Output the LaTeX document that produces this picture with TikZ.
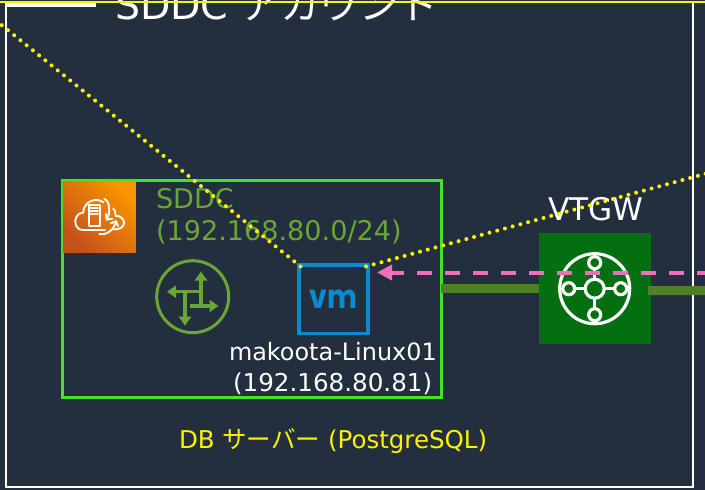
\documentclass[tikz,border=0pt]{standalone}
\usepackage{graphicx}
\usepackage{fontspec}
\setmainfont{DejaVu Sans}
\newfontfamily\cjk{Noto Sans CJK JP}
\newfontfamily\vmf{Poppins}
\usetikzlibrary{arrows.meta}
\definecolor{bgc}{HTML}{232F3E}
\definecolor{sddcg}{HTML}{46E22A}
\definecolor{txtg}{HTML}{69A637}
\definecolor{vmb}{HTML}{0A8BD0}
\definecolor{linkg}{HTML}{4F7F28}
\definecolor{tgwg}{HTML}{036F11}
\definecolor{pinkc}{HTML}{F26EBD}
\definecolor{orgd}{HTML}{C4501C}
\definecolor{orgl}{HTML}{FB9400}
\tikzset{
  lbl/.style={anchor=base west,inner sep=0pt,outer sep=0pt,text=white},
  dots/.style={yellow,line width=4bp,line cap=round,dash pattern=on 0bp off 8bp},
  link/.style={linkg,line width=9bp},
  iconw/.style={white,line width=1.9bp,line cap=round,line join=round},
  tgwl/.style={white,line width=3.2bp},
  rout/.style={txtg,line width=3.4bp,-{Triangle[length=9bp,width=12bp]}}
}
\begin{document}
\begin{tikzpicture}[x=1bp,y=-1bp]
\useasboundingbox (0,0) rectangle (705,490);
\clip (0,0) rectangle (705,490);
\fill[bgc] (0,0) rectangle (705,490);
% outer frame
\draw[white,line width=2.8bp] (6,4) -- (6,487) -- (693,487) -- (693,3);
\fill[white] (5,3) rectangle (96,7);
\node[lbl,font=\fontsize{39.6}{40}\selectfont] (title) at (115,20) {SDDC {\cjk アカウント}};
\draw[yellow,line width=2bp] (0,2) -- (705,2);
% SDDC box
\node[draw=sddcg,line width=3bp,minimum width=378bp,minimum height=216bp,inner sep=0pt,outer sep=0pt] (sddc) at (252,289) {};
\node[lbl,text=txtg,font=\fontsize{27.2}{27}\selectfont] (sddcname) at (156,209) {SDDC};
\node[lbl,text=txtg,font=\fontsize{27.2}{27}\selectfont] (sddcnet) at (156,241) {(192.168.80.0/24)};
% orange icon
\node[minimum width=72.5bp,minimum height=71.5bp,inner sep=0pt,outer sep=0pt,left color=orgd,right color=orgl,shading angle=135] (orangebox) at (99.3,216.8) {};
\begin{scope}[shift={(50,170)},scale=0.3333]
  \draw[iconw] (165,180) -- (98,180) .. controls (82,180) and (75,165) .. (76,152) .. controls (77,138) and (88,128) .. (100,128) .. controls (100,105) and (118,90) .. (138,90) .. controls (146,90) and (154,92) .. (160,97);
  \draw[iconw] (190,115) .. controls (196,122) and (197,130) .. (197,138) .. controls (212,136) and (222,148) .. (222,158) .. controls (222,170) and (210,180) .. (190,178);
  \draw[iconw] (116,106) rectangle (150,168);
  \draw[iconw] (122,115) -- (144,115) (122,123) -- (144,123) (122,131) -- (144,131);
  \draw[iconw] (163,87) .. controls (178,92) and (184,125) .. (170,148);
  \draw[iconw] (168,132) -- (170,149) -- (187,146);
  \draw[iconw] (148,192) .. controls (170,196) and (192,180) .. (198,155);
  \draw[iconw] (183,160) -- (198,153) -- (204,168);
\end{scope}
% router
\node[circle,draw=txtg,line width=3bp,minimum size=72bp,inner sep=0pt,outer sep=0pt] (router) at (192.7,296.7) {};
\draw[rout] (201,306) -- (201,271.5);
\draw[rout] (190,306) -- (218.5,306);
\draw[rout] (202.7,291.7) -- (167,291.7);
\draw[rout] (185,290) -- (185,325.7);
% vm
\node[draw=vmb,line width=3.4bp,minimum width=69bp,minimum height=68.5bp,inner sep=0pt,outer sep=0pt,text=vmb,font=\vmf\fontsize{33}{33}\bfseries\selectfont] (vm) at (333.5,299.2) {\scalebox{0.86}[1]{vm}};
\node[lbl,font=\fontsize{24}{24}\selectfont] (vmname) at (229,360) {makoota-Linux01};
\node[lbl,font=\fontsize{24.7}{24}\selectfont] (vmip) at (233,391) {(192.168.80.81)};
\node[lbl,text=yellow,font=\fontsize{24.6}{21}\selectfont] (dbl) at (179,448) {DB {\cjk サーバー} (PostgreSQL)};
% VTGW
\node[fill=tgwg,minimum width=112bp,minimum height=111bp,inner sep=0pt,outer sep=0pt] (vtgw) at (595,288.5) {};
\node[lbl,font=\fontsize{31.3}{29}\selectfont] (vtgwl) at (548,221) {VTGW};
\coordinate (linkend) at (710,290.5);
\draw[link] (sddc.east |- vtgw.west) -- (vtgw.west);
\draw[link] ([xshift=-3bp,yshift=-2bp]vtgw.east) -- (linkend);
\begin{scope}[shift={(594.7,288.7)}]
  \draw[tgwl] (0,0) circle (35);
  \draw[tgwl] (0,0) circle (9.5);
  \foreach \a/\b in {26/0,-26/0,0/26,0/-26}{\draw[tgwl] (\a,\b) circle (6);}
  \draw[tgwl] (9.5,0) -- (20,0) (-9.5,0) -- (-20,0) (0,9.5) -- (0,20) (0,-9.5) -- (0,-20);
\end{scope}
% pink arrow
\coordinate (pinkstart) at (712,272.5);
\coordinate (pinkend) at ([xshift=9bp]vm.east |- pinkstart);
\draw[pinkc,line width=4bp,dash pattern=on 15bp off 13bp,-{Triangle[length=15bp,width=15bp]}] (pinkstart) -- (pinkend);
% dotted
\coordinate (dotleft) at (-8,17.3);
\coordinate (dotright) at (713,171.7);
\draw[dots] ([xshift=1.5bp,yshift=-1.5bp]vm.north west) -- (dotleft);
\draw[dots] ([xshift=-2bp,yshift=-1.5bp]vm.north east) -- (dotright);
\end{tikzpicture}
\end{document}
